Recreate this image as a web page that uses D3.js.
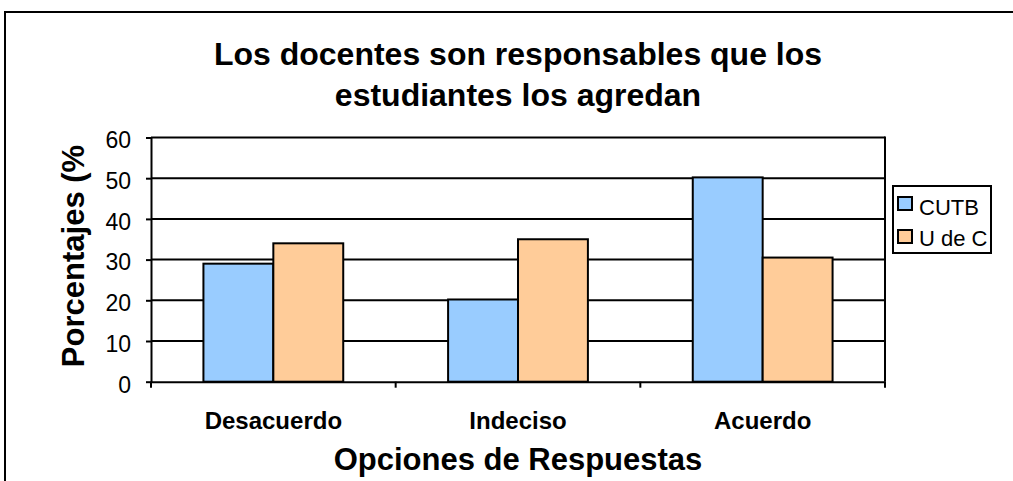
<!DOCTYPE html>
<html><head><meta charset="utf-8">
<script src="https://cdn.jsdelivr.net/npm/d3@7"></script>
<style>body{margin:0;background:#fff;}svg{display:block;font-family:"Liberation Sans",Arial,sans-serif;}</style>
</head><body>
<script>
const categories = ["Desacuerdo", "Indeciso", "Acuerdo"];
const seriesNames = ["CUTB", "U de C"];
const cutb = [29, 20.2, 50.2];
const udec = [34, 35, 30.5];
const yTicks = [0, 10, 20, 30, 40, 50, 60];
const colors = ["#99CCFF", "#FFCC99"];

const W = 1013, H = 481;
const FF = "Liberation Sans, Arial, sans-serif";
const svg = d3.select("body").append("svg").attr("width", W).attr("height", H);

// outer chart border (extends past right/bottom edge)
svg.append("rect").attr("x", 5).attr("y", 12).attr("width", 1100).attr("height", 600)
  .attr("fill", "none").attr("stroke", "#000").attr("stroke-width", 2);

const L = 151, R = 885, T = 137.5, B = 381.7;
const x = d3.scaleBand().domain(categories).range([L, R]).paddingInner(0).paddingOuter(0);
const y = d3.scaleLinear().domain([0, 60]).range([B, T]);
const barW = x.bandwidth() / 3.5;
const xs = d3.scaleBand().domain(seriesNames).range([0, barW * 2]);
const SW = 2;

// gridlines
svg.append("g").selectAll("line").data(yTicks.filter(d => d > 0)).join("line")
  .attr("x1", L).attr("x2", R).attr("y1", d => y(d)).attr("y2", d => y(d))
  .attr("stroke", "#000").attr("stroke-width", SW);
// right plot border
svg.append("line").attr("x1", R).attr("x2", R).attr("y1", T - 1).attr("y2", B)
  .attr("stroke", "#000").attr("stroke-width", SW);

// bars
const data = categories.map((c, i) => ({c, vals: [cutb[i], udec[i]]}));
const g = svg.append("g");
data.forEach(d => {
  d.vals.forEach((v, j) => {
    g.append("rect")
      .attr("x", x(d.c) + (x.bandwidth() - barW * 2) / 2 + xs(seriesNames[j]))
      .attr("y", y(v)).attr("width", barW).attr("height", B - y(v))
      .attr("fill", colors[j]).attr("stroke", "#000").attr("stroke-width", SW);
  });
});

// y axis
const yAxis = svg.append("g").attr("transform", `translate(${L},0)`)
  .call(d3.axisLeft(y).tickValues(yTicks).tickSize(5).tickSizeOuter(0).tickPadding(15));
yAxis.select(".domain").attr("stroke-width", SW);
yAxis.selectAll(".tick line").attr("stroke-width", SW);
yAxis.selectAll("text").attr("font-size", 23).attr("font-family", FF).attr("fill", "#000")
  .attr("dy", "0.45em");

// x axis
const xAxis = svg.append("g").attr("transform", `translate(0,${B})`)
  .call(d3.axisBottom(x).tickSize(0).tickPadding(30));
xAxis.select(".domain").attr("stroke-width", SW);
xAxis.selectAll("text").attr("font-size", 24).attr("font-weight", "bold")
  .attr("font-family", FF).attr("fill", "#000");
// category boundary ticks
const bounds = categories.map(c => x(c)).concat([R]);
svg.append("g").selectAll("line").data(bounds).join("line")
  .attr("x1", d => d).attr("x2", d => d).attr("y1", B).attr("y2", B + 6)
  .attr("stroke", "#000").attr("stroke-width", SW);

// title
const title = svg.append("text").attr("text-anchor", "middle").attr("font-size", 32).attr("font-weight", "bold");
title.append("tspan").attr("x", 518).attr("y", 65).text("Los docentes son responsables que los");
title.append("tspan").attr("x", 518).attr("y", 106).text("estudiantes los agredan");

// axis titles
svg.append("text").attr("transform", `translate(84,256) rotate(-90)`).attr("text-anchor", "middle")
  .attr("font-size", 31).attr("font-weight", "bold").text("Porcentajes (%");
svg.append("text").attr("x", 518).attr("y", 470).attr("text-anchor", "middle")
  .attr("font-size", 31).attr("font-weight", "bold").text("Opciones de Respuestas");

// legend
const lg = svg.append("g");
lg.append("rect").attr("x", 893).attr("y", 186).attr("width", 98).attr("height", 67)
  .attr("fill", "#fff").attr("stroke", "#000").attr("stroke-width", SW);
seriesNames.forEach((s, i) => {
  const yy = 197 + i * 33;
  lg.append("rect").attr("x", 898).attr("y", yy).attr("width", 14).attr("height", 13)
    .attr("fill", colors[i]).attr("stroke", "#000").attr("stroke-width", SW);
  lg.append("text").attr("x", 919).attr("y", 215 + i * 31).attr("font-size", 22).text(s);
});
</script>
</body></html>
